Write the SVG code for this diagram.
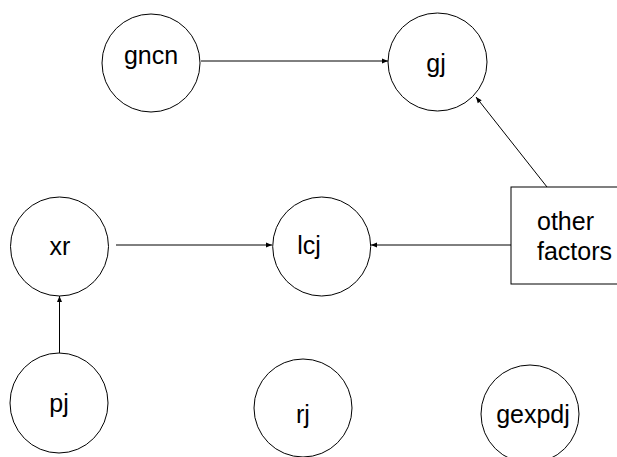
<svg xmlns="http://www.w3.org/2000/svg" width="617" height="457" viewBox="0 0 617 457">
<style>
.n{fill:#fff;stroke:#000;stroke-width:1}
.t{font-family:"Liberation Sans",Arial,Helvetica,sans-serif;font-size:25px;fill:#000;text-anchor:middle}
.e{stroke:#000;stroke-width:1;fill:none;marker-end:url(#ah)}
</style>
<defs>
<marker id="ah" markerWidth="8" markerHeight="8" refX="7" refY="4" orient="auto" markerUnits="userSpaceOnUse">
<path d="M1,1.5 L7,4 L1,6.5 Z" fill="#000"/>
</marker>
</defs>
<rect width="617" height="457" fill="#fff"/>
<g id="connectors">
<line class="e" x1="201" y1="61" x2="388" y2="61"/>
<line class="e" x1="547" y1="187" x2="476" y2="97"/>
<line class="e" x1="116" y1="245" x2="272" y2="245"/>
<line class="e" x1="511" y1="245" x2="371" y2="245"/>
<line class="e" x1="59.5" y1="353" x2="59.5" y2="296"/>
</g>
<g id="gncn"><ellipse class="n" cx="151" cy="63" rx="49" ry="49"/><text class="t" x="151" y="64">gncn</text></g>
<g id="gj"><ellipse class="n" cx="437.5" cy="62" rx="49.5" ry="49"/><text class="t" x="436" y="72">gj</text></g>
<g id="xr"><ellipse class="n" cx="59.5" cy="246.5" rx="49" ry="49.5"/><text class="t" x="60" y="255">xr</text></g>
<g id="lcj"><ellipse class="n" cx="321.7" cy="246.5" rx="49" ry="49.5"/><text class="t" x="309" y="254">lcj</text></g>
<g id="other_factors"><rect class="n" x="511" y="187" width="140" height="97"/><text class="t" x="537" y="230" style="text-anchor:start">other</text><text class="t" x="537" y="260" style="text-anchor:start">factors</text></g>
<g id="pj"><ellipse class="n" cx="59" cy="403" rx="49" ry="50"/><text class="t" x="59" y="412">pj</text></g>
<g id="rj"><ellipse class="n" cx="303" cy="408" rx="49" ry="49"/><text class="t" x="303" y="423">rj</text></g>
<g id="gexpdj"><ellipse class="n" cx="530" cy="414" rx="49" ry="49"/><text class="t" x="533" y="423">gexpdj</text></g>
</svg>
